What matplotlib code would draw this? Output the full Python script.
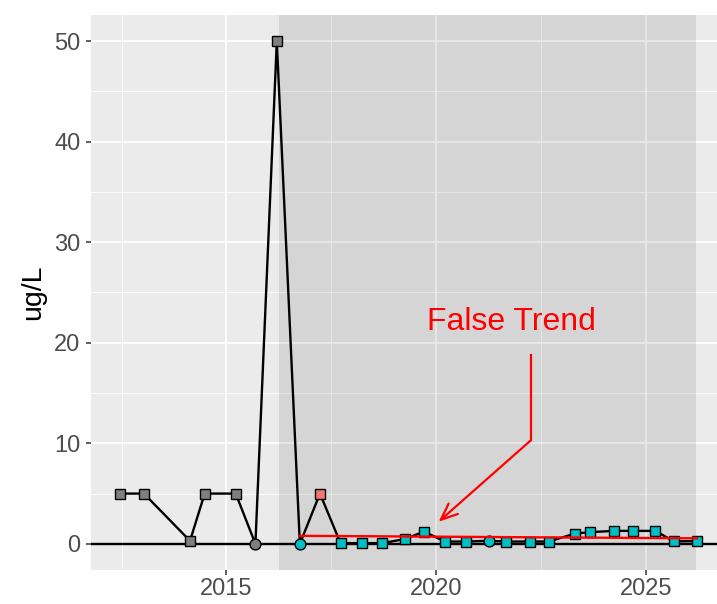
import matplotlib
matplotlib.use("Agg")
import matplotlib.pyplot as plt
from matplotlib.ticker import MultipleLocator

plt.rcParams['font.family'] = ['Liberation Sans', 'DejaVu Sans']

# sample dates (decimal years) and concentrations
years = [2012.46, 2013.03, 2014.13, 2014.48, 2015.22, 2015.69, 2016.20,
         2016.75, 2017.23, 2017.72, 2018.23, 2018.71, 2019.25, 2019.71,
         2020.21, 2020.71, 2021.26, 2021.66, 2022.23, 2022.69, 2023.31,
         2023.66, 2024.24, 2024.70, 2025.23, 2025.67, 2026.22]
values = [5.0, 5.0, 0.3, 5.0, 5.0, 0.0, 50.0,
          0.0, 5.0, 0.07, 0.07, 0.07, 0.47, 1.22,
          0.23, 0.23, 0.3, 0.23, 0.23, 0.23, 1.02,
          1.16, 1.29, 1.29, 1.29, 0.25, 0.27]
groups = ['old'] * 7 + ['new', 'flag'] + ['new'] * 18
nondetect = [False, False, False, False, False, True, False,
             True, False, False, False, False, False, False,
             False, False, True, False, False, False, False,
             False, False, False, False, False, False]

group_colors = {'old': '#7F7F7F', 'flag': '#F8766D', 'new': '#00BFC4'}

trend_x = [2016.75, 2026.22]
trend_y = [0.8, 0.55]

shade_start, shade_end = 2016.25, 2026.2

fig = plt.figure(figsize=(7.17, 6.04), dpi=100)
ax = fig.add_axes([0.1276, 0.0563, 0.8724, 0.9189])
ax.set_facecolor('#EBEBEB')
for s in ax.spines.values():
    s.set_visible(False)

ax.set_xlim(2011.78, 2026.7)
ax.set_ylim(-2.6, 52.6)
ax.xaxis.set_major_locator(MultipleLocator(5))
ax.xaxis.set_minor_locator(MultipleLocator(2.5))
ax.yaxis.set_major_locator(MultipleLocator(10))
ax.yaxis.set_minor_locator(MultipleLocator(5))
ax.set_axisbelow(True)
ax.grid(which='major', color='white', linewidth=1.3)
ax.grid(which='minor', color='white', linewidth=0.6)
ax.tick_params(which='major', length=3.5, width=1.1, color='#333333',
               labelsize=17, labelcolor='#4D4D4D', pad=2.5)
ax.tick_params(axis='y', which='major', pad=4.5)
ax.tick_params(which='minor', length=0)

ax.axvspan(shade_start, shade_end, color='black', alpha=0.09, lw=0, zorder=0.8)
ax.axhline(0, color='black', lw=1.7, zorder=1.5)

ax.plot(years, values, color='black', lw=1.7, zorder=2)
for x, y, g, nd in zip(years, values, groups, nondetect):
    ax.plot(x, y, marker='o' if nd else 's', ms=7.8 if nd else 7.3,
            mfc=group_colors[g], mec='black', mew=1.0, ls='none', zorder=3)
ax.plot(trend_x, trend_y, color='red', lw=1.7, zorder=4)

# annotation
ax.text(2021.8, 22.1, 'False Trend', color='red', fontsize=23,
        ha='center', va='center')
ax.plot([2022.26, 2022.26], [18.8, 10.3], color='red', lw=1.6)
ax.annotate('', xy=(2020.06, 2.2), xytext=(2022.26, 10.3),
            arrowprops=dict(arrowstyle='->,head_length=1.2,head_width=0.5',
                            color='red', lw=1.6, shrinkA=0, shrinkB=0))

ax.set_ylabel('ug/L', fontsize=20.5, labelpad=6)

fig.savefig('out.png', dpi=100)
